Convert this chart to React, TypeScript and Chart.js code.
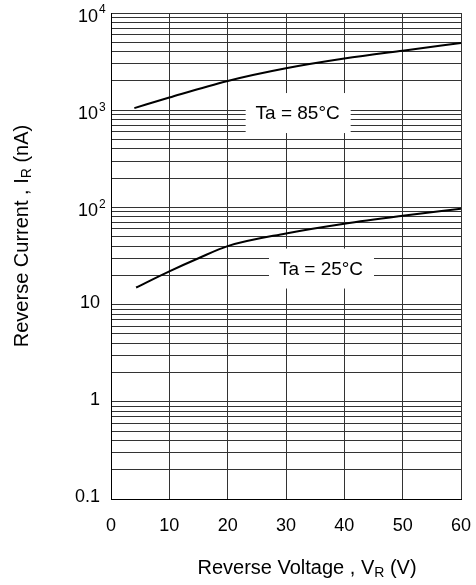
import { useEffect, useRef } from "react";
import { Chart, registerables } from "chart.js";

Chart.register(...registerables);

// ---- data ----
const voltage85 = [4, 10, 20, 30, 40, 50, 60];
const current85 = [1050, 1350, 2000, 2700, 3400, 4100, 4900];

const voltage25 = [4.3, 10, 15, 20, 30, 40, 50, 60];
const current25 = [15, 22, 30, 40, 54, 68, 82, 97];

const xTickValues = [0, 10, 20, 30, 40, 50, 60];
const yGridValues = [
  0.1, 0.2, 0.3, 0.4, 0.5, 0.6, 0.7, 0.8, 0.9,
  1, 2, 3, 4, 5, 6, 7, 8, 9,
  10, 20, 30, 40, 50, 60, 70, 80, 90,
  100, 200, 300, 400, 500, 600, 700, 800, 900,
  1000, 2000, 3000, 4000, 5000, 6000, 7000, 8000, 9000,
  10000,
];
const yLabelValues = [0.1, 1, 10, 100, 1000, 10000];
const yLabelBase = ["0.1", "1", "10", "10", "10", "10"];
const yLabelSup = ["", "", "", "2", "3", "4"];

const seriesLabels = ["Ta = 85°C", "Ta = 25°C"];
const labelAtVoltage = [32, 36];
const labelAtCurrent = [935, 23.5];

const FONT = "'Liberation Sans', Arial, Helvetica, sans-serif";

const textPlugin = {
  id: "customText",
  afterDatasetsDraw(chart: any) {
    const ctx = chart.ctx as CanvasRenderingContext2D;
    const { left, right, top, bottom } = chart.chartArea;
    const xs = chart.scales.x;
    const ys = chart.scales.y;
    ctx.save();
    ctx.fillStyle = "#000";

    // series labels with white boxes
    for (let i = 0; i < seriesLabels.length; i++) {
      const cx = xs.getPixelForValue(labelAtVoltage[i]);
      const cy = ys.getPixelForValue(labelAtCurrent[i]);
      ctx.fillStyle = "#fff";
      ctx.fillRect(cx - 52, cy - 20, 105, 40);
      ctx.fillStyle = "#000";
      ctx.font = `19px ${FONT}`;
      ctx.textAlign = "center";
      ctx.textBaseline = "middle";
      ctx.fillText(seriesLabels[i], cx, cy + 1);
    }

    // x tick labels
    ctx.font = `18px ${FONT}`;
    ctx.textAlign = "center";
    ctx.textBaseline = "middle";
    for (const v of xTickValues) {
      ctx.fillText(String(v), xs.getPixelForValue(v), bottom + 27);
    }

    // y tick labels
    for (let i = 0; i < yLabelValues.length; i++) {
      const py = ys.getPixelForValue(yLabelValues[i]);
      if (yLabelSup[i]) {
        ctx.font = `18px ${FONT}`;
        ctx.textAlign = "right";
        ctx.textBaseline = "middle";
        ctx.fillText(yLabelBase[i], left - 13, py + 4);
        ctx.font = `12px ${FONT}`;
        ctx.textAlign = "left";
        ctx.fillText(yLabelSup[i], left - 12, py - 3);
      } else {
        ctx.font = `18px ${FONT}`;
        ctx.textAlign = "right";
        ctx.textBaseline = "middle";
        ctx.fillText(yLabelBase[i], left - 11, py - 2);
      }
    }

    // axis titles with subscripts
    const drawTitle = (a: string, sub: string, b: string, cx: number, cy: number) => {
      ctx.textBaseline = "middle";
      ctx.textAlign = "left";
      ctx.font = `20px ${FONT}`;
      const wa = ctx.measureText(a).width;
      const wb = ctx.measureText(b).width;
      ctx.font = `14px ${FONT}`;
      const ws = ctx.measureText(sub).width;
      const total = wa + ws + wb;
      let x = cx - total / 2;
      ctx.font = `20px ${FONT}`;
      ctx.fillText(a, x, cy);
      x += wa;
      ctx.font = `14px ${FONT}`;
      ctx.fillText(sub, x, cy + 5);
      x += ws;
      ctx.font = `20px ${FONT}`;
      ctx.fillText(b, x, cy);
    };
    drawTitle("Reverse Voltage , V", "R", " (V)", (left + right) / 2 + 21, bottom + 69);

    ctx.save();
    ctx.translate(22, (top + bottom) / 2 - 20);
    ctx.rotate(-Math.PI / 2);
    drawTitle("Reverse Current , I", "R", " (nA)", 0, 0);
    ctx.restore();

    ctx.restore();
  },
};

export default function App() {
  const canvasRef = useRef<HTMLCanvasElement | null>(null);

  useEffect(() => {
    const canvas = canvasRef.current;
    if (!canvas) return;
    const chart = new Chart(canvas, {
      type: "line",
      data: {
        datasets: [
          {
            label: seriesLabels[0],
            data: voltage85.map((v, i) => ({ x: v, y: current85[i] })),
            borderColor: "#000",
            borderWidth: 2,
            pointRadius: 0,
            cubicInterpolationMode: "monotone",
            fill: false,
          },
          {
            label: seriesLabels[1],
            data: voltage25.map((v, i) => ({ x: v, y: current25[i] })),
            borderColor: "#000",
            borderWidth: 2,
            pointRadius: 0,
            cubicInterpolationMode: "monotone",
            fill: false,
          },
        ],
      },
      options: {
        responsive: false,
        animation: false,
        devicePixelRatio: 1,
        layout: { padding: { left: 111, right: 15, top: 13, bottom: 86 } },
        plugins: { legend: { display: false }, tooltip: { enabled: false } },
        scales: {
          x: {
            type: "linear",
            min: 0,
            max: 60,
            afterBuildTicks: (scale: any) => {
              scale.ticks = xTickValues.map((v) => ({ value: v }));
            },
            ticks: { display: false },
            grid: { color: "#333", lineWidth: 1, drawTicks: false },
            border: { display: true, color: "#000", width: 1 },
          },
          y: {
            type: "logarithmic",
            min: 0.1,
            max: 10000,
            afterBuildTicks: (scale: any) => {
              scale.ticks = yGridValues.map((v) => ({ value: v }));
            },
            ticks: { display: false },
            grid: { color: "#333", lineWidth: 1, drawTicks: false },
            border: { display: true, color: "#000", width: 1 },
          },
        },
      } as any,
      plugins: [textPlugin],
    });
    return () => chart.destroy();
  }, []);

  return (
    <div style={{ position: "absolute", left: 0, top: 0, width: 476, height: 585, background: "#fff" }}>
      <canvas ref={canvasRef} width={476} height={585} />
    </div>
  );
}
